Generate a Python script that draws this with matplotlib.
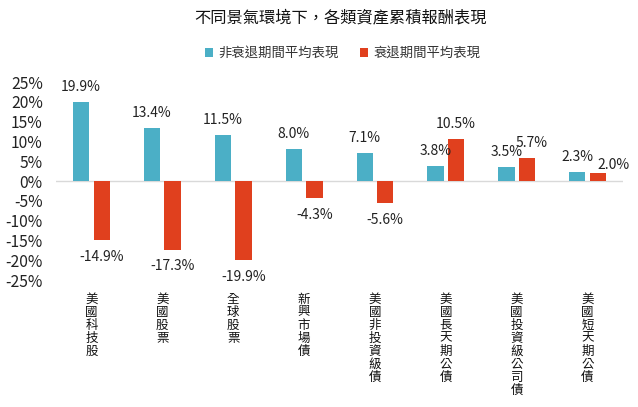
import numpy as np
import matplotlib
matplotlib.use("Agg")
import matplotlib.pyplot as plt

plt.rcParams['font.family'] = ['Noto Sans CJK TC', 'DejaVu Sans']

# data
categories = ['美國科技股', '美國股票', '全球股票', '新興市場債',
              '美國非投資級債', '美國長天期公債', '美國投資級公司債', '美國短天期公債']
non_recession = [19.9, 13.4, 11.5, 8.0, 7.1, 3.8, 3.5, 2.3]
recession = [-14.9, -17.3, -19.9, -4.3, -5.6, 10.5, 5.7, 2.0]
series_names = ['非衰退期間平均表現', '衰退期間平均表現']
yticks = [25, 20, 15, 10, 5, 0, -5, -10, -15, -20, -25]

teal = '#4BAFC6'
red = '#E0401E'

fig = plt.figure(figsize=(6.38, 4.07), dpi=100)
ax = fig.add_axes([0.0878, 0.312, 0.8887, 0.4865])

x = np.arange(len(categories))
w = 0.23
off = 0.145
b1 = ax.bar(x - off, non_recession, w, color=teal, label=series_names[0], zorder=2)
b2 = ax.bar(x + off, recession, w, color=red, label=series_names[1], zorder=2)

# labels that were nudged by hand in the original (series, index) -> (dx, dy) in points
nudge = {(1, 6): (3, 0), (1, 7): (11, -5)}

for si, (bars, vals) in enumerate([(b1, non_recession), (b2, recession)]):
    for i, (b, v) in enumerate(zip(bars, vals)):
        cx = b.get_x() + b.get_width() / 2
        dx, dy = nudge.get((si, i), (0, 0))
        if v >= 0:
            ax.annotate(f'{v:.1f}%', (cx, v), xytext=(dx, 6 + dy), textcoords='offset points',
                        ha='center', va='bottom', fontsize=10, color='#222222')
        else:
            ax.annotate(f'{v:.1f}%', (cx, v), xytext=(dx, -7 + dy), textcoords='offset points',
                        ha='center', va='top', fontsize=10, color='#222222')

ax.axhline(0, color='#D9D9D9', lw=1, zorder=1)
ax.set_xlim(-0.5, len(categories) - 0.5)
ax.set_ylim(-25, 25)
ax.set_yticks(yticks)
ax.set_yticklabels([f'{t}%' for t in yticks], fontsize=11.3, color='#222222')
ax.set_xticks(x)
ax.set_xticklabels(['\n'.join(c) for c in categories], fontsize=9,
                   linespacing=1.0, va='top', color='#111111')
ax.tick_params(axis='both', length=0)
ax.tick_params(axis='x', pad=9)
ax.tick_params(axis='y', pad=9.5)
for s in ax.spines.values():
    s.set_visible(False)

fig.text(0.533, 0.956, '不同景氣環境下，各類資產累積報酬表現', ha='center', va='center',
         fontsize=11.7, color='#111111')
ax.legend(loc='center', bbox_to_anchor=(0.506, 1.146), ncol=2, frameon=False,
          fontsize=9.6, handlelength=0.6, handleheight=0.6, handletextpad=0.4,
          columnspacing=1.6, labelcolor='#333333')

fig.savefig('out.png', dpi=100)
